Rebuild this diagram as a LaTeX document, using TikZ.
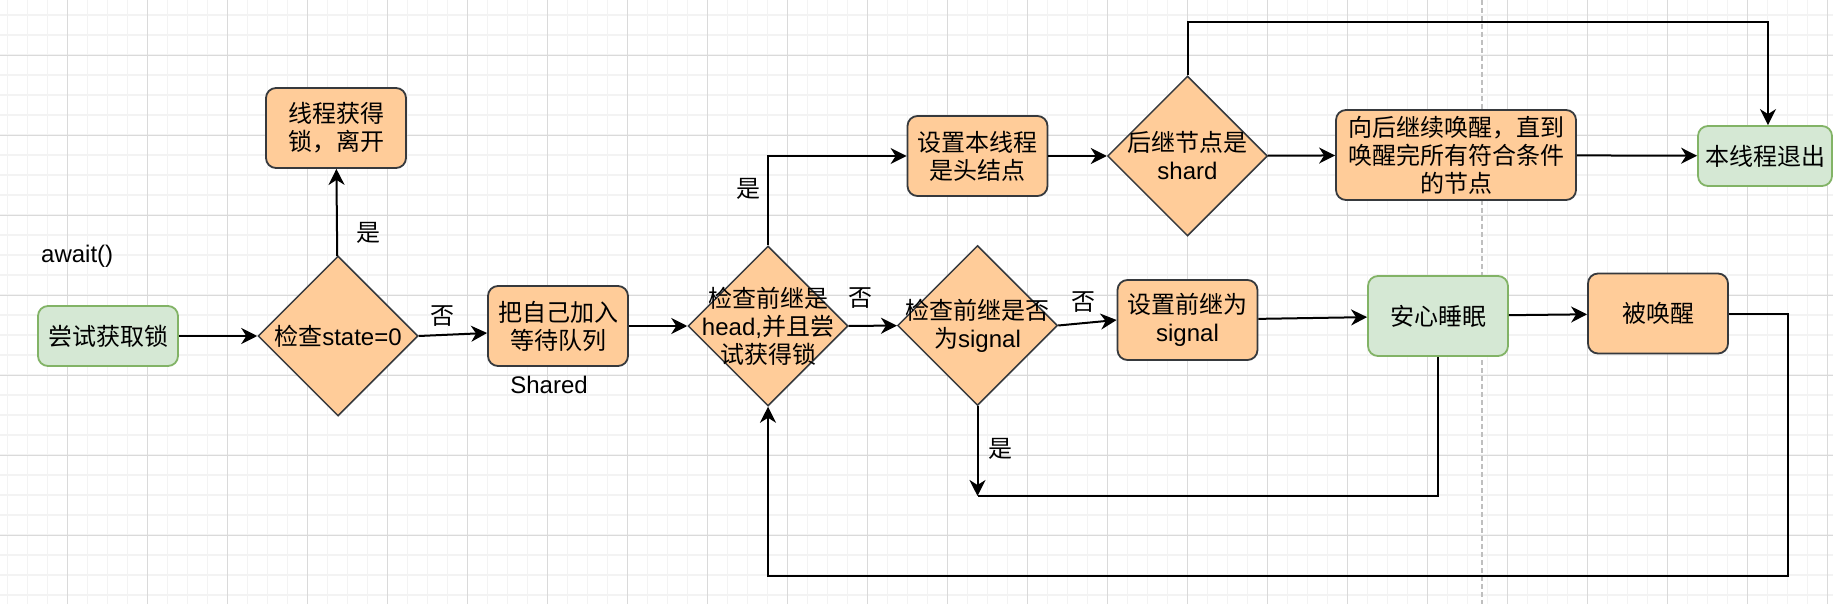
\documentclass[tikz,border=0pt]{standalone}
\usepackage{fontspec}
\setmainfont{Noto Sans CJK SC}
\newfontfamily\lat{Liberation Sans}
\usetikzlibrary{positioning,shapes.geometric,arrows.meta,calc}
\definecolor{boxorange}{HTML}{FFCC99}
\definecolor{boxline}{HTML}{36393D}
\definecolor{okgreen}{HTML}{D5E8D4}
\definecolor{okline}{HTML}{82B366}
\definecolor{gridmajor}{HTML}{DADADA}
\definecolor{gridminor}{HTML}{F3F3F3}

\begin{document}
\begin{tikzpicture}[x=1pt, y=-1pt,
    txt/.style={font=\fontsize{24}{28}\selectfont, align=center, inner sep=0pt},
    box/.style={txt, rectangle, rounded corners=10pt, draw=boxline, fill=boxorange, line width=1.8pt, minimum width=140pt, minimum height=80pt},
    gbox/.style={box, draw=okline, fill=okgreen, minimum height=60pt},
    dia/.style={diamond, draw=boxline, fill=boxorange, line width=1.5pt, minimum width=160pt, minimum height=160pt, inner sep=0pt},
    arr/.style={line width=2pt, -{Stealth[length=16pt, width=16pt, inset=5pt]}},
    line/.style={line width=2pt}
  ]
      \useasboundingbox (0,0) rectangle (1833,604);
      \fill[white] (0,0) rectangle (1833,604);
      \foreach \x in {7.3,27.3,...,1833} {
        \draw[gridminor, line width=1.6pt] (\x,0) -- (\x,604);
      }
      \foreach \y in {15,35,...,604} {
        \draw[gridminor, line width=1.6pt] (0,\y) -- (1833,\y);
      }
      \foreach \x in {67.3,147.3,...,1833} {
        \draw[gridmajor, line width=0.8pt] (\x,0) -- (\x,604);
      }
      \foreach \y in {55,135,...,604} {
        \draw[gridmajor, line width=0.8pt] (0,\y) -- (1833,\y);
      }
      \draw[black!25, line width=1.5pt, dash pattern=on 5pt off 3pt] (1482,0) -- (1482,604);

      \node[gbox] (try) at (108,336) {尝试获取锁};
      \node[box] (leave) at (336,128) {线程获得\\锁，离开};
      \node[dia, label={[txt]center:检查{\lat state=0}}] (chk) at (338,336) {};
      \node[box] (queue) at (558,326) {把自己加入\\等待队列};
      \node[dia, label={[txt]center:检查前继是\\{\lat head,}并且尝\\试获得锁}] (head) at (768,326) {};
      \node[box] (setme) at (977.5,156) {设置本线程\\是头结点};
      \node[dia, label={[txt]center:后继节点是\\{\lat shard}}] (sh) at (1187.5,156) {};
      \node[box, minimum width=240pt, minimum height=90pt] (wake) at (1456,155) {向后继续唤醒，直到\\唤醒完所有符合条件\\的节点};
      \node[gbox, minimum width=134pt] (exit) at (1765,156) {本线程退出};
      \node[dia, label={[txt]center:检查前继是否\\为{\lat signal}}] (sig) at (977.5,325.5) {};
      \node[box] (setsig) at (1187.5,320) {设置前继为\\{\lat signal}};
      \node[gbox, minimum height=80pt] (sleep) at (1438,316) {安心睡眠};
      \node[box] (woken) at (1658,313.5) {被唤醒};

      \node[txt, anchor=west] (await) at (41,256) {\lat await()};
      \node[txt] (shared) at (549,385) {\lat Shared};
      \node[txt] (yes1) at (368,233) {是};
      \node[txt] (no1) at (442,316) {否};
      \node[txt] (yes2) at (748,189) {是};
      \node[txt] (no2) at (860,298) {否};
      \node[txt] (no3) at (1083,302) {否};
      \node[txt] (yes3) at (1000,449) {是};

      \coordinate (top) at (1768,22);
      \coordinate (back) at (1788,576);
      \coordinate (join) at (977.5,496);

      \draw[arr] (try) -- (chk);
      \draw[arr] (chk) -- (leave);
      \draw[arr] (chk.east) -- ([yshift=-7pt]queue.west);
      \draw[arr] (queue) -- (head);
      \draw[arr] (head.north) |- (setme.west);
      \draw[arr] (setme) -- (sh);
      \draw[arr] (sh) -- (wake);
      \draw[arr] (wake) -- (exit);
      \draw[arr] (sh.north) |- (top) -- (top |- exit.north);
      \draw[arr] (head) -- (sig);
      \draw[arr] (sig.east) -- (setsig.west);
      \draw[arr] (setsig) -- (sleep);
      \draw[arr] (sleep) -- (woken);
      \draw[arr] (woken.east) -| (back) -| (head.south);
      \draw[line] (sleep.south) |- (join);
      \draw[arr] (sig.south) -- (join);
    \end{tikzpicture}
\end{document}
